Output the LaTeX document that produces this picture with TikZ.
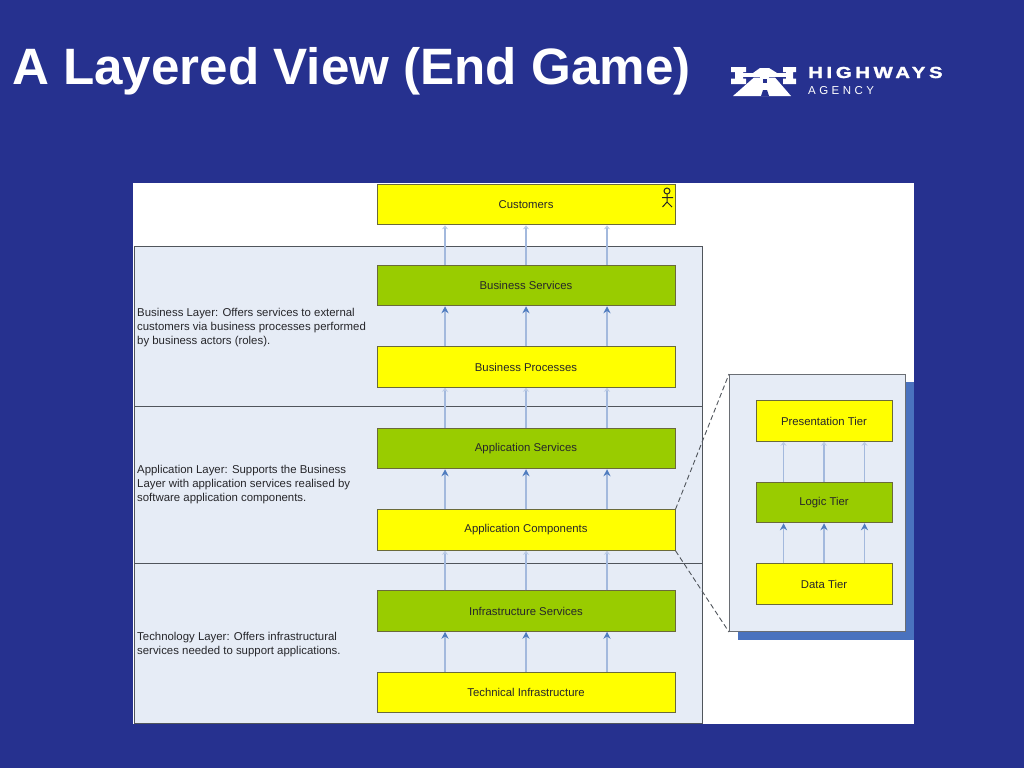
\documentclass[tikz,border=0pt]{standalone}
\usepackage{graphicx,xcolor}
\usepackage{fontspec}
\setmainfont{Liberation Sans}
\usepackage{tikz}
\usetikzlibrary{arrows.meta}
\definecolor{slideblue}{HTML}{26318F}
\definecolor{bandfill}{HTML}{E6ECF6}
\definecolor{shadowblue}{HTML}{4A72BE}
\definecolor{boxyellow}{HTML}{FFFF00}
\definecolor{boxgreen}{HTML}{99CC00}
\definecolor{arrowblue}{HTML}{4F7CBF}
\definecolor{fadeblue}{HTML}{A3B9DD}
\definecolor{fadetip}{HTML}{BCCBE4}
\definecolor{linegray}{HTML}{50555C}
\definecolor{boxedge}{HTML}{6A6A3A}
\definecolor{labelgray}{HTML}{26262A}
\tikzset{
  yellowbox/.style={draw=boxedge,fill=boxyellow,line width=1pt,minimum width=298pt,minimum height=40.5pt,inner sep=0pt,text=labelgray,font=\fontsize{11.35}{13}\selectfont},
  greenbox/.style={yellowbox,fill=boxgreen},
  tierbox/.style={yellowbox,minimum width=136pt},
  tiergreen/.style={greenbox,minimum width=136pt},
  band/.style={draw=linegray,fill=bandfill,line width=.8pt,minimum width=568pt,inner sep=0pt},
  bandtext/.style={anchor=north west,align=left,inner sep=0pt,text=labelgray,font=\fontsize{11.4}{14}\selectfont},
  uparrow/.style={-{Stealth[length=7pt,width=7pt,color=arrowblue]},draw=fadeblue,line width=1.2pt},
  fadearrow/.style={-{Stealth[length=4pt,width=6pt,color=fadetip]},draw=fadeblue,line width=1.2pt},
  zoomline/.style={draw=linegray,line width=.9pt,dash pattern=on 5pt off 3pt},
}
\begin{document}
\begin{tikzpicture}[x=1pt,y=-1pt]
    \fill[slideblue] (0,0) rectangle (1024,768);
    \node[anchor=west,inner sep=0pt,text=white,font=\fontsize{51.15}{54}\bfseries\selectfont] (title) at (12,71) {A Layered View (End Game)};
    % logo
    \fill[white] (731,67) rectangle (746,72) (735,72) rectangle (743,79) (731,78.5) rectangle (746,84);
    \fill[white] (783,67) rectangle (796,72) (786,72) rectangle (793,79) (783,78.5) rectangle (796,84);
    \fill[white] (743,72.5) rectangle (786,76.5);
    \fill[white] (753,73) -- (760,68) -- (769,68) -- (777,73) -- cycle;
    \fill[white] (754,77.5) -- (775,77.5) -- (791,96) -- (733,96) -- cycle;
    \fill[white] (760,76) rectangle (769,78);
    \fill[slideblue] (762.5,79) rectangle (766.5,83);
    \fill[slideblue] (763,90) -- (767,90) -- (769,96) -- (761,96) -- cycle;
    \node[anchor=west,inner sep=0pt,text=white,font=\fontsize{16}{16}\bfseries\selectfont] (hname) at (808,72.5) {\scalebox{1.27}[1]{\addfontfeature{LetterSpace=18,FakeBold=1.5}HIGHWAYS}};
    \node[anchor=west,inner sep=0pt,text=white,font=\fontsize{11.5}{12}\selectfont] (hagency) at (808,91) {\addfontfeature{LetterSpace=30}AGENCY};
    % white sheet
    \fill[white] (133,183) rectangle (914,724);
    % layers
    \node[band,anchor=north west,minimum height=160pt] (bizband) at (134,246) {};
    \node[band,anchor=north west,minimum height=157pt] (appband) at (134,406) {};
    \node[band,anchor=north west,minimum height=160pt] (techband) at (134,563) {};
    \node[bandtext] (biztext) at (137,308.5) {Business Layer: Offers services to external\\customers via business processes performed\\by business actors (roles).};
    \node[bandtext] (apptext) at (137,465.5) {Application Layer: Supports the Business\\Layer with application services realised by\\software application components.};
    \node[bandtext] (techtext) at (137,632.5) {Technology Layer: Offers infrastructural\\services needed to support applications.};
    % main stack
    \node[yellowbox] (customers) at (526,204.5) {Customers};
    \node[greenbox] (bizsvc) at (526,285.5) {Business Services};
    \node[yellowbox] (bizproc) at (526,367) {Business Processes};
    \node[greenbox] (appsvc) at (526,448.5) {Application Services};
    \node[yellowbox] (appcomp) at (526,530) {Application Components};
    \node[greenbox] (infsvc) at (526,611) {Infrastructure Services};
    \node[yellowbox] (techinf) at (526,692.5) {Technical Infrastructure};
    % actor
    \draw[black!85,line width=1pt] (667,191) circle (3) (667,194) -- (667,202) (662,197.5) -- (673,197.5) (662.5,207) -- (667,202) -- (672,207);
    \foreach \dx in {-81,0,81} {
        \draw[fadearrow] ([xshift=\dx pt]bizsvc.north) -- ([xshift=\dx pt]customers.south);
        \draw[uparrow] ([xshift=\dx pt]bizproc.north) -- ([xshift=\dx pt]bizsvc.south);
        \draw[fadearrow] ([xshift=\dx pt]appsvc.north) -- ([xshift=\dx pt]bizproc.south);
        \draw[uparrow] ([xshift=\dx pt]appcomp.north) -- ([xshift=\dx pt]appsvc.south);
        \draw[fadearrow] ([xshift=\dx pt]infsvc.north) -- ([xshift=\dx pt]appcomp.south);
        \draw[uparrow] ([xshift=\dx pt]techinf.north) -- ([xshift=\dx pt]infsvc.south);
    }
    % zoomed panel
    \fill[shadowblue] (738,382) rectangle (914,640);
    \node[draw=linegray!85,fill=bandfill,line width=1pt,anchor=north west,minimum width=176pt,minimum height=257pt,inner sep=0pt] (tierpanel) at (729,374) {};
    \node[tierbox] (prestier) at (824,421) {Presentation Tier};
    \node[tiergreen] (logictier) at (824,502.5) {Logic Tier};
    \node[tierbox] (datatier) at (824,584) {Data Tier};
    \foreach \dx in {-40.5,0,40.5} {
        \draw[fadearrow] ([xshift=\dx pt]logictier.north) -- ([xshift=\dx pt]prestier.south);
        \draw[uparrow] ([xshift=\dx pt]datatier.north) -- ([xshift=\dx pt]logictier.south);
    }
    \draw[zoomline] (appcomp.north east) -- (tierpanel.north west);
    \draw[zoomline] (appcomp.south east) -- (tierpanel.south west);
\end{tikzpicture}
\end{document}
